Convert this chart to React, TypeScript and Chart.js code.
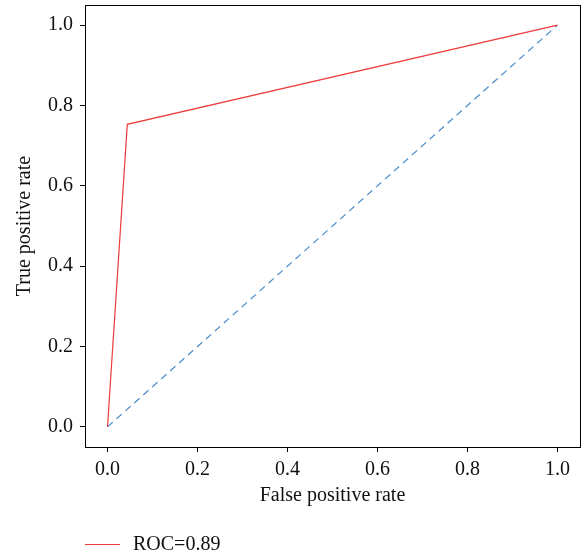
import React, { useEffect, useRef } from "react";
import { Chart, registerables } from "chart.js";

Chart.register(...registerables);

const rocFpr = [0, 0.044, 1];
const rocTpr = [0, 0.753, 1];
const diagFpr = [0, 1];
const diagTpr = [0, 1];
const rocLabel = "ROC=0.89";
const xTitle = "False positive rate";
const yTitle = "True positive rate";
const tickValues = [0, 0.2, 0.4, 0.6, 0.8, 1.0];

const FONT = "'Liberation Serif', 'DejaVu Serif', serif";

const framePlugin = {
  id: "frame",
  afterDraw(chart: any) {
    const { ctx, chartArea } = chart;
    ctx.save();
    ctx.strokeStyle = "#000";
    ctx.lineWidth = 1;
    ctx.strokeRect(
      Math.round(chartArea.left) + 0.5,
      Math.round(chartArea.top) + 0.5,
      Math.round(chartArea.right - chartArea.left),
      Math.round(chartArea.bottom - chartArea.top)
    );
    ctx.restore();
  },
};

const legendPlugin = {
  id: "customLegend",
  afterDraw(chart: any) {
    const { ctx, chartArea } = chart;
    ctx.save();
    const items = chart.data.datasets.filter((d: any) => d.label);
    let y = chart.height - 14;
    items.forEach((d: any) => {
      const x0 = chartArea.left;
      ctx.strokeStyle = d.borderColor;
      ctx.lineWidth = 1;
      ctx.setLineDash([]);
      ctx.beginPath();
      ctx.moveTo(x0, Math.round(y) + 0.5);
      ctx.lineTo(x0 + 35, Math.round(y) + 0.5);
      ctx.stroke();
      ctx.fillStyle = "#111";
      ctx.font = `20px ${FONT}`;
      ctx.textBaseline = "middle";
      ctx.fillText(d.label, x0 + 48, y + 1);
      y -= 24;
    });
    ctx.restore();
  },
};

export default function App() {
  const ref = useRef<HTMLCanvasElement>(null);
  useEffect(() => {
    document.body.style.margin = "0";
    const tickFont = { family: FONT, size: 20 };
    const titleFont = { family: FONT, size: 20 };
    const chart = new Chart(ref.current!, {
      type: "scatter",
      data: {
        datasets: [
          {
            label: rocLabel,
            data: rocFpr.map((x, i) => ({ x, y: rocTpr[i] })),
            showLine: true,
            borderColor: "#ee3b3b",
            borderWidth: 1.2,
            pointRadius: 0,
            fill: false,
          },
          {
            label: "",
            data: diagFpr.map((x, i) => ({ x, y: diagTpr[i] })),
            showLine: true,
            borderColor: "#4b8cc8",
            borderWidth: 1.2,
            borderDash: [7, 5],
            pointRadius: 0,
            fill: false,
          },
        ],
      },
      options: {
        animation: false,
        responsive: false,
        layout: { padding: { top: 5, right: 7, left: 0, bottom: 50 } },
        plugins: { legend: { display: false }, tooltip: { enabled: false } },
        scales: {
          x: {
            type: "linear",
            min: -0.05,
            max: 1.05,
            afterBuildTicks: (s: any) => {
              s.ticks = tickValues.map((v) => ({ value: v }));
            },
            afterFit: (s: any) => {
              s.height = 61;
              s.paddingLeft = 0;
              s.paddingRight = 0;
            },
            ticks: {
              font: tickFont,
              color: "#111",
              padding: 6,
              callback: (v: any) => Number(v).toFixed(1),
            },
            grid: {
              display: true,
              drawOnChartArea: false,
              drawTicks: true,
              tickLength: 5,
              color: "#000",
            },
            border: { display: true, color: "#000" },
            title: {
              display: true,
              text: xTitle,
              font: titleFont,
              color: "#111",
              padding: { top: 2, bottom: 0 },
            },
          },
          y: {
            type: "linear",
            min: -0.05,
            max: 1.05,
            afterBuildTicks: (s: any) => {
              s.ticks = tickValues.map((v) => ({ value: v }));
            },
            afterFit: (s: any) => {
              s.width = 85;
              s.paddingTop = 0;
              s.paddingBottom = 0;
            },
            ticks: {
              font: tickFont,
              color: "#111",
              padding: 7,
              callback: (v: any) => Number(v).toFixed(1),
            },
            grid: {
              display: true,
              drawOnChartArea: false,
              drawTicks: true,
              tickLength: 5,
              color: "#000",
            },
            border: { display: true, color: "#000" },
            title: {
              display: true,
              text: yTitle,
              font: titleFont,
              color: "#111",
              padding: { top: 13, bottom: 0 },
            },
          },
        },
      },
      plugins: [framePlugin, legendPlugin],
    } as any);
    return () => chart.destroy();
  }, []);
  return <canvas ref={ref} width={587} height={558} style={{ display: "block" }} />;
}
